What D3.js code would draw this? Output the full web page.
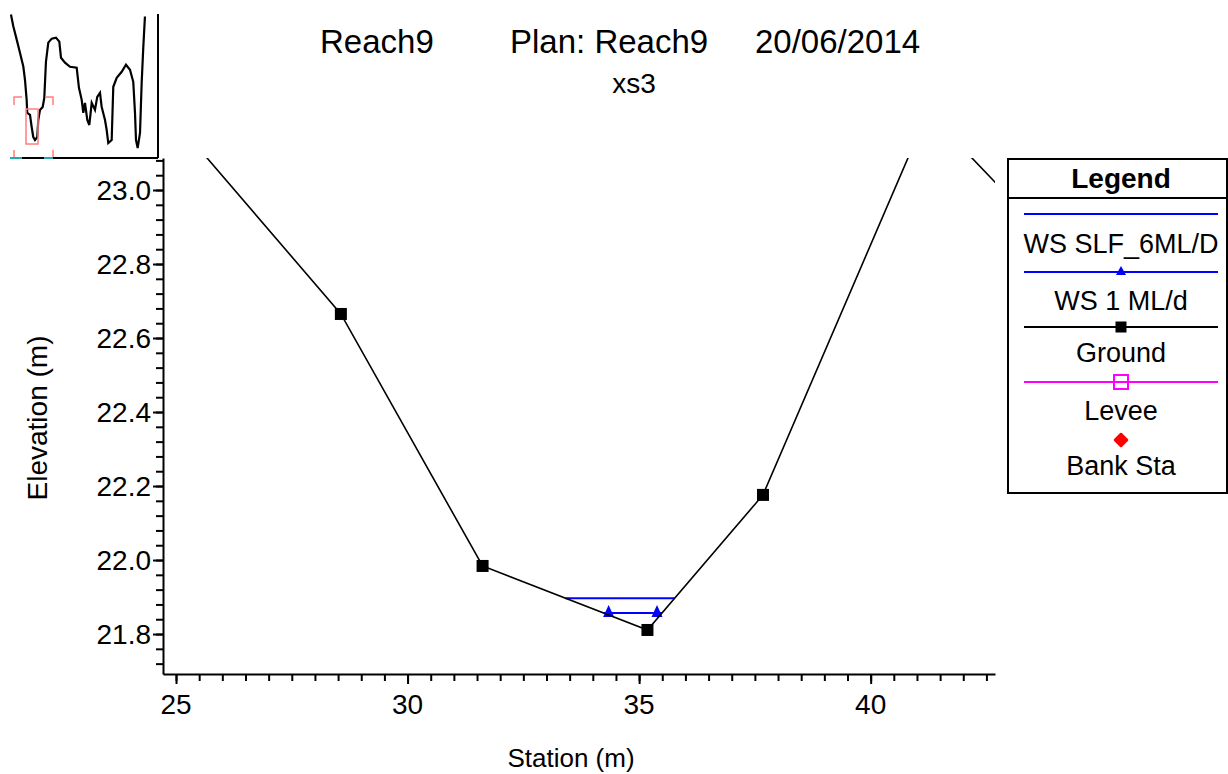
<!DOCTYPE html>
<html><head><meta charset="utf-8">
<script src="https://cdn.jsdelivr.net/npm/d3@7"></script>
<style>
body{margin:0;background:#fff;overflow:hidden;}
text{font-family:"Liberation Sans", Arial, sans-serif;fill:#000;}
</style></head><body>
<svg id="chart" width="1228" height="774"></svg>
<script>
// ---------- data ----------
const titleParts = ["Reach9", "Plan: Reach9", "20/06/2014"];
const subtitle = "xs3";
const xLabel = "Station (m)";
const yLabel = "Elevation (m)";
const xTickValues = [25, 30, 35, 40];
const yTickValues = [21.8, 22.0, 22.2, 22.4, 22.6, 22.8, 23.0];
const groundStation   = [24.2, 28.56, 31.62, 35.18, 37.675, 41.234, 43.5];
const groundElevation = [23.301, 22.665, 21.984, 21.811, 22.176, 23.211, 22.915];
const wsNames = ["WS SLF_6ML/D", "WS 1 ML/d"];
const wsElevation = [21.897, 21.857];
const legendNames = ["WS SLF_6ML/D", "WS 1 ML/d", "Ground", "Levee", "Bank Sta"];
// whole cross-section profile shown in the overview inset
const overviewStation = [2.2, 5.7, 10.8, 15.7, 20.7, 23.2, 25.7, 26.6, 30.7, 33.2, 35.6, 38.2, 41.6, 43.1, 45.7, 49.7, 52.1, 54.6, 58.1, 63.2, 69.6, 74.6, 77.1, 83.1, 90.6, 100.6, 104.0, 108.1, 110.5, 113.0, 116.5, 119.5, 123.1, 128.0, 131.4, 135.5, 138.0, 143.0, 145.5, 147.9, 153.0, 155.4, 160.5, 168.0, 174.4, 180.4, 185.3, 187.9, 189.4, 191.9, 195.4, 197.9, 200.3, 202.8];
const overviewElevation = [26.85, 26.38, 25.85, 25.33, 24.78, 24.25, 23.45, 22.93, 22.85, 22.37, 21.97, 21.85, 21.97, 22.65, 23.05, 23.17, 23.53, 24.97, 25.73, 25.89, 25.93, 25.77, 25.13, 24.93, 24.77, 24.73, 23.93, 23.45, 22.93, 23.33, 22.65, 22.45, 23.33, 23.05, 23.57, 23.73, 23.17, 22.65, 22.25, 21.73, 21.85, 23.97, 24.33, 24.57, 24.85, 24.65, 24.17, 22.93, 21.85, 21.53, 22.13, 24.13, 25.53, 26.77];

// ---------- layout ----------
const svg = d3.select("#chart");
const L = 163, R = 995, T = 158, B = 674;
const x = d3.scaleLinear().domain([24.719, 42.685]).range([L, R]);
const y = d3.scaleLinear().domain([21.692, 23.0865]).range([B, T]);
const BLUE = "#0000ff", MAG = "#ff00ff", PINK = "#ff7f7f";

svg.append("defs").append("clipPath").attr("id", "plotclip")
  .append("rect").attr("x", L).attr("y", T).attr("width", R - L).attr("height", B - T);

// ---------- titles ----------
const titleX = [320, 510, 755];
svg.selectAll("text.title").data(titleParts).enter().append("text")
  .attr("class", "title").attr("x", (d, i) => titleX[i]).attr("y", 53)
  .attr("font-size", 33).text(d => d);
svg.append("text").attr("x", 634).attr("y", 93).attr("text-anchor", "middle")
  .attr("font-size", 28).text(subtitle);

// ---------- axes ----------
const xMinor = d3.range(25, 42.6, 0.5).filter(v => v >= x.domain()[0] && v <= x.domain()[1]);
const yMinor = d3.range(21.68, 23.09, 0.04).map(v => +v.toFixed(2)).filter(v => v >= y.domain()[0] && v <= y.domain()[1]);

const gx = svg.append("g").attr("transform", `translate(0,${B})`);
gx.call(d3.axisBottom(x).tickValues(xMinor).tickSize(7).tickSizeOuter(0).tickFormat(""));
gx.append("g").call(d3.axisBottom(x).tickValues(xTickValues).tickSize(10).tickSizeOuter(0).tickFormat(""))
  .select(".domain").remove();
const gy = svg.append("g").attr("transform", `translate(${L},0)`);
gy.call(d3.axisLeft(y).tickValues(yMinor).tickSize(7).tickSizeOuter(0).tickFormat(""));
gy.append("g").call(d3.axisLeft(y).tickValues(yTickValues).tickSize(10).tickSizeOuter(0).tickFormat(""))
  .select(".domain").remove();
svg.selectAll(".domain").attr("stroke", "#000").attr("stroke-width", 2);
svg.selectAll(".tick line").attr("stroke", "#000").attr("stroke-width", 2);

svg.selectAll("text.xt").data(xTickValues).enter().append("text").attr("class", "xt")
  .attr("x", d => x(d)).attr("y", 714).attr("text-anchor", "middle")
  .attr("font-size", 28).text(d => d3.format("d")(d));
svg.selectAll("text.yt").data(yTickValues).enter().append("text").attr("class", "yt")
  .attr("x", 151).attr("y", d => y(d) + 10).attr("text-anchor", "end")
  .attr("font-size", 28).text(d => d3.format(".1f")(d));

svg.append("text").attr("x", 571).attr("y", 767).attr("text-anchor", "middle")
  .attr("font-size", 26).text(xLabel);
svg.append("text").attr("transform", "translate(47,418) rotate(-90)").attr("text-anchor", "middle")
  .attr("font-size", 28).text(yLabel);

// ---------- plot ----------
const plot = svg.append("g").attr("clip-path", "url(#plotclip)");
const ground = groundStation.map((s, i) => [s, groundElevation[i]]);
const line = d3.line().x(d => x(d[0])).y(d => y(d[1]));

// water surface extents: intersection with the ground around the thalweg
function wsExtent(ws) {
  const iMin = d3.minIndex(ground, d => d[1]);
  let i = iMin; while (i > 0 && ground[i - 1][1] < ws) i--;
  const a = ground[i - 1], b = ground[i];
  const left = a[0] + (ws - a[1]) / (b[1] - a[1]) * (b[0] - a[0]);
  let j = iMin; while (j < ground.length - 1 && ground[j + 1][1] < ws) j++;
  const c = ground[j], e = ground[j + 1];
  const right = c[0] + (ws - c[1]) / (e[1] - c[1]) * (e[0] - c[0]);
  return [left, right];
}

wsElevation.forEach((ws, k) => {
  const [s0, s1] = wsExtent(ws);
  plot.append("path").attr("d", line([[s0, ws], [s1, ws]]))
    .attr("stroke", BLUE).attr("stroke-width", 2).attr("fill", "none");
  if (k === 1) {
    [[s0, 1], [s1, -1]].forEach(([s, dir]) => {
      plot.append("path").attr("d", "M-5.5,4L5.5,4L0,-8Z")
        .attr("transform", `translate(${x(s) + dir * 5},${y(ws)})`).attr("fill", BLUE);
    });
  }
});

plot.append("path").attr("d", line(ground)).attr("stroke", "#000")
  .attr("stroke-width", 1.6).attr("fill", "none");
plot.selectAll("rect.gm").data(ground).enter().append("rect").attr("class", "gm")
  .attr("x", d => x(d[0]) - 6).attr("y", d => y(d[1]) - 6)
  .attr("width", 12).attr("height", 12).attr("fill", "#000");

// ---------- legend ----------
const lg = svg.append("g");
lg.append("rect").attr("x", 1008).attr("y", 159).attr("width", 219).attr("height", 334)
  .attr("fill", "#fff").attr("stroke", "#000").attr("stroke-width", 2);
lg.append("line").attr("x1", 1008).attr("x2", 1227).attr("y1", 198).attr("y2", 198)
  .attr("stroke", "#000").attr("stroke-width", 2);
lg.append("text").attr("x", 1121).attr("y", 188).attr("text-anchor", "middle")
  .attr("font-size", 28).attr("font-weight", "bold").text("Legend");
const symY = [214, 272, 327, 382, 440];
const txtY = [253, 310, 362, 420, 475];
const cx = 1121;
legendNames.forEach((n, i) => {
  lg.append("text").attr("x", cx).attr("y", txtY[i]).attr("text-anchor", "middle")
    .attr("font-size", 27).text(n);
});
const lineColors = [BLUE, BLUE, "#000", MAG];
lineColors.forEach((c, i) => {
  lg.append("line").attr("x1", 1024).attr("x2", 1218).attr("y1", symY[i]).attr("y2", symY[i])
    .attr("stroke", c).attr("stroke-width", 2);
});
lg.append("path").attr("d", "M-5,3L5,3L0,-6Z").attr("transform", `translate(${cx},${symY[1]})`).attr("fill", BLUE);
lg.append("rect").attr("x", cx - 5.5).attr("y", symY[2] - 5.5).attr("width", 11).attr("height", 11).attr("fill", "#000");
lg.append("rect").attr("x", cx - 7).attr("y", symY[3] - 7).attr("width", 14).attr("height", 14)
  .attr("fill", "none").attr("stroke", MAG).attr("stroke-width", 2);
lg.append("path").attr("d", "M0,-6L6,0L0,6L-6,0Z").attr("transform", `translate(${cx},${symY[4]})`)
  .attr("fill", "#ff0000").attr("stroke", "#ff0000").attr("stroke-width", 2.5).attr("stroke-linejoin", "round");

// ---------- overview inset ----------
const ix = d3.scaleLinear().domain(x.domain()).range([26, 38]);
const iy = d3.scaleLinear().domain(y.domain()).range([144, 109]);
const inset = svg.append("g");
const overview = overviewStation.map((s, i) => [s, overviewElevation[i]]);
inset.append("path").attr("d", d3.line().x(d => ix(d[0])).y(d => iy(d[1]))(overview))
  .attr("stroke", "#000").attr("stroke-width", 2.2).attr("fill", "none");
inset.append("line").attr("x1", 10).attr("x2", 158).attr("y1", 158).attr("y2", 158)
  .attr("stroke", "#000").attr("stroke-width", 2);
inset.append("line").attr("x1", 158).attr("x2", 158).attr("y1", 14).attr("y2", 158)
  .attr("stroke", "#000").attr("stroke-width", 2);
[[10, 22], [44, 53]].forEach(([a, b]) => inset.append("line").attr("x1", a).attr("x2", b)
  .attr("y1", 158).attr("y2", 158).attr("stroke", "#2aa8a8").attr("stroke-width", 2));
inset.append("rect").attr("x", ix(x.domain()[0])).attr("y", iy(y.domain()[1]))
  .attr("width", ix(x.domain()[1]) - ix(x.domain()[0])).attr("height", iy(y.domain()[0]) - iy(y.domain()[1]))
  .attr("fill", "none").attr("stroke", PINK).attr("stroke-width", 1.5);
const bp = "M14,105V97H22M45,97H53V105M14,150V157M53,150V157";
inset.append("path").attr("d", bp).attr("fill", "none").attr("stroke", PINK).attr("stroke-width", 1.5);
</script>
</body></html>
